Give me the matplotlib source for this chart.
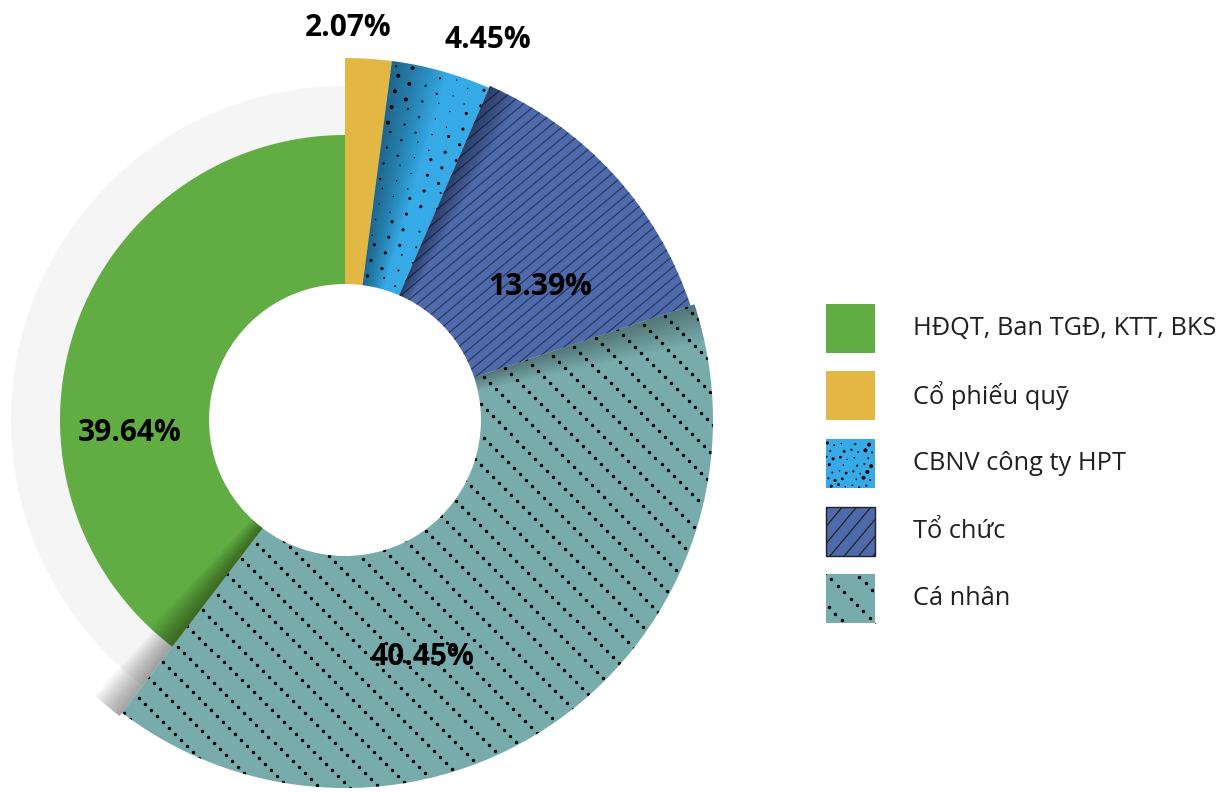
import numpy as np
import matplotlib.pyplot as plt
from matplotlib.patches import Wedge, Rectangle
from matplotlib.collections import LineCollection

# legend order
categories = ["HĐQT, Ban TGĐ, KTT, BKS", "Cổ phiếu quỹ", "CBNV công ty HPT", "Tổ chức", "Cá nhân"]
values = [39.64, 2.07, 4.45, 13.39, 40.45]
colors = ["#62ad43", "#e3b744", "#36a9e7", "#4e6aab", "#77abac"]
# order of slices clockwise from 12 o'clock
pie_order = [1, 2, 3, 4, 0]

W, H = 1218, 793
CX, CY = 345, H - 420
R_HOLE = 136
R_BG = 334
outer_r = [285, 362, 362, 364, 368]
# where the percentage labels sit (pixels, y from top)
label_xy = [(130, 433), (348, 28), (488, 40), (540, 287), (422, 657)]

plt.rcParams['font.family'] = ['Open Sans', 'DejaVu Sans']

fig = plt.figure(figsize=(W / 100, H / 100), dpi=100)
ax = fig.add_axes([0, 0, 1, 1])
ax.set_xlim(0, W)
ax.set_ylim(0, H)
ax.axis("off")


def line_texture(patch, x0, y0, x1, y1, angle, spacing, color, lw):
    a = np.radians(angle)
    d = np.array([np.cos(a), np.sin(a)])
    n = np.array([-np.sin(a), np.cos(a)])
    c = np.array([(x0 + x1) / 2, (y0 + y1) / 2])
    R = np.hypot(x1 - x0, y1 - y0)
    k = int(R / spacing) + 1
    segs = []
    for i in range(-k, k + 1):
        p = c + n * i * spacing
        segs.append([p - d * R, p + d * R])
    lc = LineCollection(segs, colors=color, linewidths=lw, zorder=patch.get_zorder() + 0.1)
    ax.add_collection(lc)
    lc.set_clip_path(patch)


def dot_texture(patch, x0, y0, x1, y1, angle, spacing, step, size):
    a = np.radians(angle)
    d = np.array([np.cos(a), np.sin(a)])
    n = np.array([-np.sin(a), np.cos(a)])
    c = np.array([(x0 + x1) / 2, (y0 + y1) / 2])
    R = np.hypot(x1 - x0, y1 - y0)
    ii = np.arange(-int(R / spacing) - 1, int(R / spacing) + 2)
    jj = np.arange(-int(R / step) - 1, int(R / step) + 2)
    I, J = np.meshgrid(ii, jj)
    pts = c + np.outer(I.ravel() * spacing, n) + np.outer(J.ravel() * step, d)
    sc = ax.scatter(pts[:, 0], pts[:, 1], s=size, c="black", lw=0, zorder=patch.get_zorder() + 0.1)
    sc.set_clip_path(patch)


def stipple(patch, x0, y0, x1, y1, n):
    # low-discrepancy (R2) sequence so the speckles look scattered
    g = 1.32471795724474602596
    i = np.arange(1, n + 1)
    xs = x0 + ((0.5 + i / g) % 1) * (x1 - x0)
    ys = y0 + ((0.5 + i / g ** 2) % 1) * (y1 - y0)
    sizes = np.array([1.5, 4, 2, 8, 2.5, 1, 5, 2])[i % 8]
    sc = ax.scatter(xs, ys, s=sizes, c="black", lw=0, zorder=patch.get_zorder() + 0.1)
    sc.set_clip_path(patch)


def shade(r_in, r_out, start, extent, color, alpha, z, steps=18):
    for j in range(steps):
        e = extent * (j + 1) / steps
        ax.add_patch(Wedge((CX, CY), r_out, start - e, start, width=r_out - r_in,
                           fc=color, lw=0, alpha=alpha, zorder=z))


# grey ring behind
ax.add_patch(Wedge((CX, CY), R_BG, 0, 360, width=R_BG - R_HOLE, fc="#f5f5f5", lw=0, zorder=1))

shade_ext = {0: 6, 2: 9, 3: 5, 4: 6}
shade_alpha = {0: 0.022, 2: 0.025, 3: 0.022, 4: 0.016}
cum = 0
for idx in pie_order:
    v = values[idx]
    t2 = 90 - cum * 3.6
    t1 = 90 - (cum + v) * 3.6
    cum += v
    r = outer_r[idx]
    w = Wedge((CX, CY), r, t1, t2, width=r - R_HOLE, fc=colors[idx], lw=0, zorder=3)
    ax.add_patch(w)
    bb = (CX - r, CY - r, CX + r, CY + r)
    if idx == 2:
        stipple(w, *bb, 2400)
    elif idx == 3:
        line_texture(w, *bb, 40, 8.5, "#26345a", 0.8)
    elif idx == 4:
        dot_texture(w, *bb, -45, 21.4, 8.5, 6)
    if idx in shade_ext:
        shade(R_HOLE, r, t2, shade_ext[idx], "black", shade_alpha[idx], 3.5)
    if idx == 0:
        # shadow of the big slice falling on the grey ring
        shade(r, outer_r[4] + 4, t2, 5, "#404040", 0.03, 2)

for idx in range(len(values)):
    x, y = label_xy[idx]
    ax.text(x, H - y, f"{values[idx]:.2f}%", ha="center", va="center",
            fontsize=21.5, fontweight="bold", color="black", zorder=6)

# legend
box_x, box_w = 826, 49
box_top = [304, 371, 439, 507, 574]
for idx, name in enumerate(categories):
    y0 = H - box_top[idx] - box_w
    ec = "#222222" if idx == 3 else "none"
    rect = Rectangle((box_x, y0), box_w, box_w, fc=colors[idx], ec=ec, lw=1.0 if idx == 3 else 0, zorder=3)
    ax.add_patch(rect)
    bb = (box_x, y0, box_x + box_w, y0 + box_w)
    if idx == 2:
        stipple(rect, *bb, 40)
    elif idx == 3:
        line_texture(rect, *bb, 50, 11, "#222222", 0.9)
    elif idx == 4:
        dot_texture(rect, *bb, -45, 21.4, 9, 6)
    ax.text(913, y0 + box_w / 2, name, ha="left", va="center", fontsize=18.3, color="#231f20")

fig.savefig("out.png", dpi=100, facecolor="white")
